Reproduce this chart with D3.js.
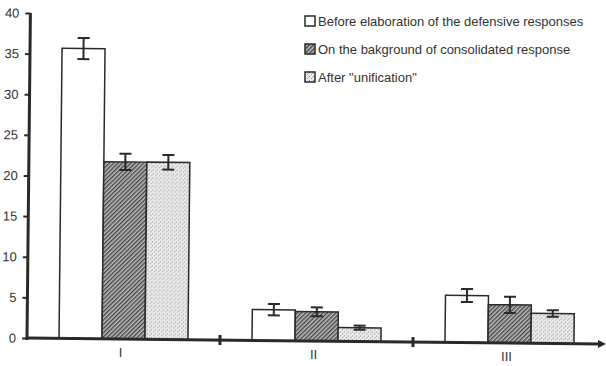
<!DOCTYPE html>
<html>
<head>
<meta charset="utf-8">
<script src="https://cdn.jsdelivr.net/npm/d3@7"></script>
<style>
  body { margin: 0; background: #fff; }
  text { font-family: "Liberation Sans", Arial, sans-serif; fill: #333; }
</style>
</head>
<body>
<div id="chart"></div>
<script>
// data
const groups = ["I", "II", "III"];
const series = [
  "Before elaboration of the defensive responses",
  "On the bakground of consolidated response",
  "After \"unification\""
];
const values = [
  [35.7, 21.8, 21.8],
  [3.8, 3.6, 1.7],
  [5.8, 4.7, 3.7]
];
const errors = [
  [1.3, 1.0, 0.9],
  [0.7, 0.55, 0.25],
  [0.8, 1.0, 0.4]
];
const yTicks = [0, 5, 10, 15, 20, 25, 30, 35, 40];

const W = 606, H = 366;
const ink = "#2a2a2a";

const svg = d3.select("#chart")
  .append("svg")
  .attr("width", W)
  .attr("height", H);

const defs = svg.append("defs");

// dense diagonal hatch
const hatch = defs.append("pattern")
  .attr("id", "hatch")
  .attr("patternUnits", "userSpaceOnUse")
  .attr("width", 3)
  .attr("height", 3)
  .attr("patternTransform", "rotate(45)");
hatch.append("rect").attr("width", 3).attr("height", 3).attr("fill", "#bdbdbd");
hatch.append("rect").attr("width", 1.4).attr("height", 3).attr("fill", "#444");

// light stipple
const dots = defs.append("pattern")
  .attr("id", "dots")
  .attr("patternUnits", "userSpaceOnUse")
  .attr("width", 4)
  .attr("height", 4);
dots.append("rect").attr("width", 4).attr("height", 4).attr("fill", "#ececec");
dots.append("rect").attr("x", 0).attr("y", 0).attr("width", 1).attr("height", 1).attr("fill", "#888");
dots.append("rect").attr("x", 2).attr("y", 2).attr("width", 1).attr("height", 1).attr("fill", "#999");
dots.append("rect").attr("x", 3).attr("y", 1).attr("width", 1).attr("height", 1).attr("fill", "#bbb");

const fills = ["#fff", "url(#hatch)", "url(#dots)"];

const x0 = 27, y0 = 338;

// the scan is tilted a little, keep that
const g = svg.append("g")
  .attr("transform", `rotate(0.6, ${x0}, ${y0})`);

const y = d3.scaleLinear().domain([0, 40]).range([y0, 13]);
const x = d3.scaleBand().domain(groups).range([x0, 606]).padding(0);
const xi = d3.scaleBand().domain(d3.range(series.length))
  .range([0, x.bandwidth()])
  .paddingInner(0)
  .paddingOuter(0.745);

// bars
const grp = g.selectAll("g.grp")
  .data(groups)
  .join("g")
  .attr("class", "grp")
  .attr("transform", d => `translate(${x(d)},0)`);

grp.selectAll("rect")
  .data((d, gi) => values[gi].map((v, si) => ({ v, si, e: errors[gi][si] })))
  .join("rect")
  .attr("x", d => xi(d.si))
  .attr("y", d => y(d.v))
  .attr("width", xi.bandwidth())
  .attr("height", d => y(0) - y(d.v))
  .attr("fill", d => fills[d.si])
  .attr("stroke", ink)
  .attr("stroke-width", 1.5);

// error bars
const eb = grp.selectAll("g.err")
  .data((d, gi) => values[gi].map((v, si) => ({ v, si, e: errors[gi][si] })))
  .join("g")
  .attr("class", "err")
  .attr("transform", d => `translate(${xi(d.si) + xi.bandwidth() / 2},0)`)
  .attr("stroke", ink)
  .attr("stroke-width", 2);
eb.append("line")
  .attr("y1", d => y(d.v + d.e)).attr("y2", d => y(d.v - d.e));
eb.append("line")
  .attr("x1", -6).attr("x2", 6)
  .attr("y1", d => y(d.v + d.e)).attr("y2", d => y(d.v + d.e));
eb.append("line")
  .attr("x1", -6).attr("x2", 6)
  .attr("y1", d => y(d.v - d.e)).attr("y2", d => y(d.v - d.e));

// y axis
const yAxis = g.append("g")
  .attr("transform", `translate(${x0},0)`)
  .call(d3.axisLeft(y).tickValues(yTicks).tickSize(5).tickPadding(6));
yAxis.select(".domain").attr("stroke", ink).attr("stroke-width", 3)
  .attr("d", `M0,${y0 + 2}V${y(40)}`);
yAxis.selectAll(".tick line").attr("stroke", ink).attr("stroke-width", 2);
yAxis.selectAll(".tick text")
  .style("font-size", "13px")
  .attr("fill", "#333");

// x axis with arrow
g.append("line")
  .attr("x1", x0).attr("x2", 602)
  .attr("y1", y0).attr("y2", y0)
  .attr("stroke", ink).attr("stroke-width", 3);
g.append("path")
  .attr("d", `M606,${y0}l-8,-4v8z`)
  .attr("fill", ink);

// group separators
g.selectAll("line.sep")
  .data(groups.slice(1))
  .join("line")
  .attr("class", "sep")
  .attr("x1", d => x(d)).attr("x2", d => x(d))
  .attr("y1", y0 - 5).attr("y2", y0 + 5)
  .attr("stroke", ink).attr("stroke-width", 3);

// category labels (kept unrotated so they stay inside the frame)
svg.selectAll("text.cat")
  .data(groups)
  .join("text")
  .attr("class", "cat")
  .attr("x", d => x(d) + x.bandwidth() / 2 - 3)
  .attr("y", (d, i) => 357 + i * 2)
  .attr("text-anchor", "middle")
  .style("font-size", "13px")
  .text(d => d);

// legend
const leg = svg.append("g")
  .attr("transform", "translate(305,16)");
const li = leg.selectAll("g")
  .data(series)
  .join("g")
  .attr("transform", (d, i) => `translate(0,${i * 28})`);
li.append("rect")
  .attr("width", 10).attr("height", 10)
  .attr("fill", (d, i) => fills[i])
  .attr("stroke", ink).attr("stroke-width", 1.5);
li.append("text")
  .attr("x", 13).attr("y", 10)
  .style("font-size", "13px")
  .text(d => d);
</script>
</body>
</html>
